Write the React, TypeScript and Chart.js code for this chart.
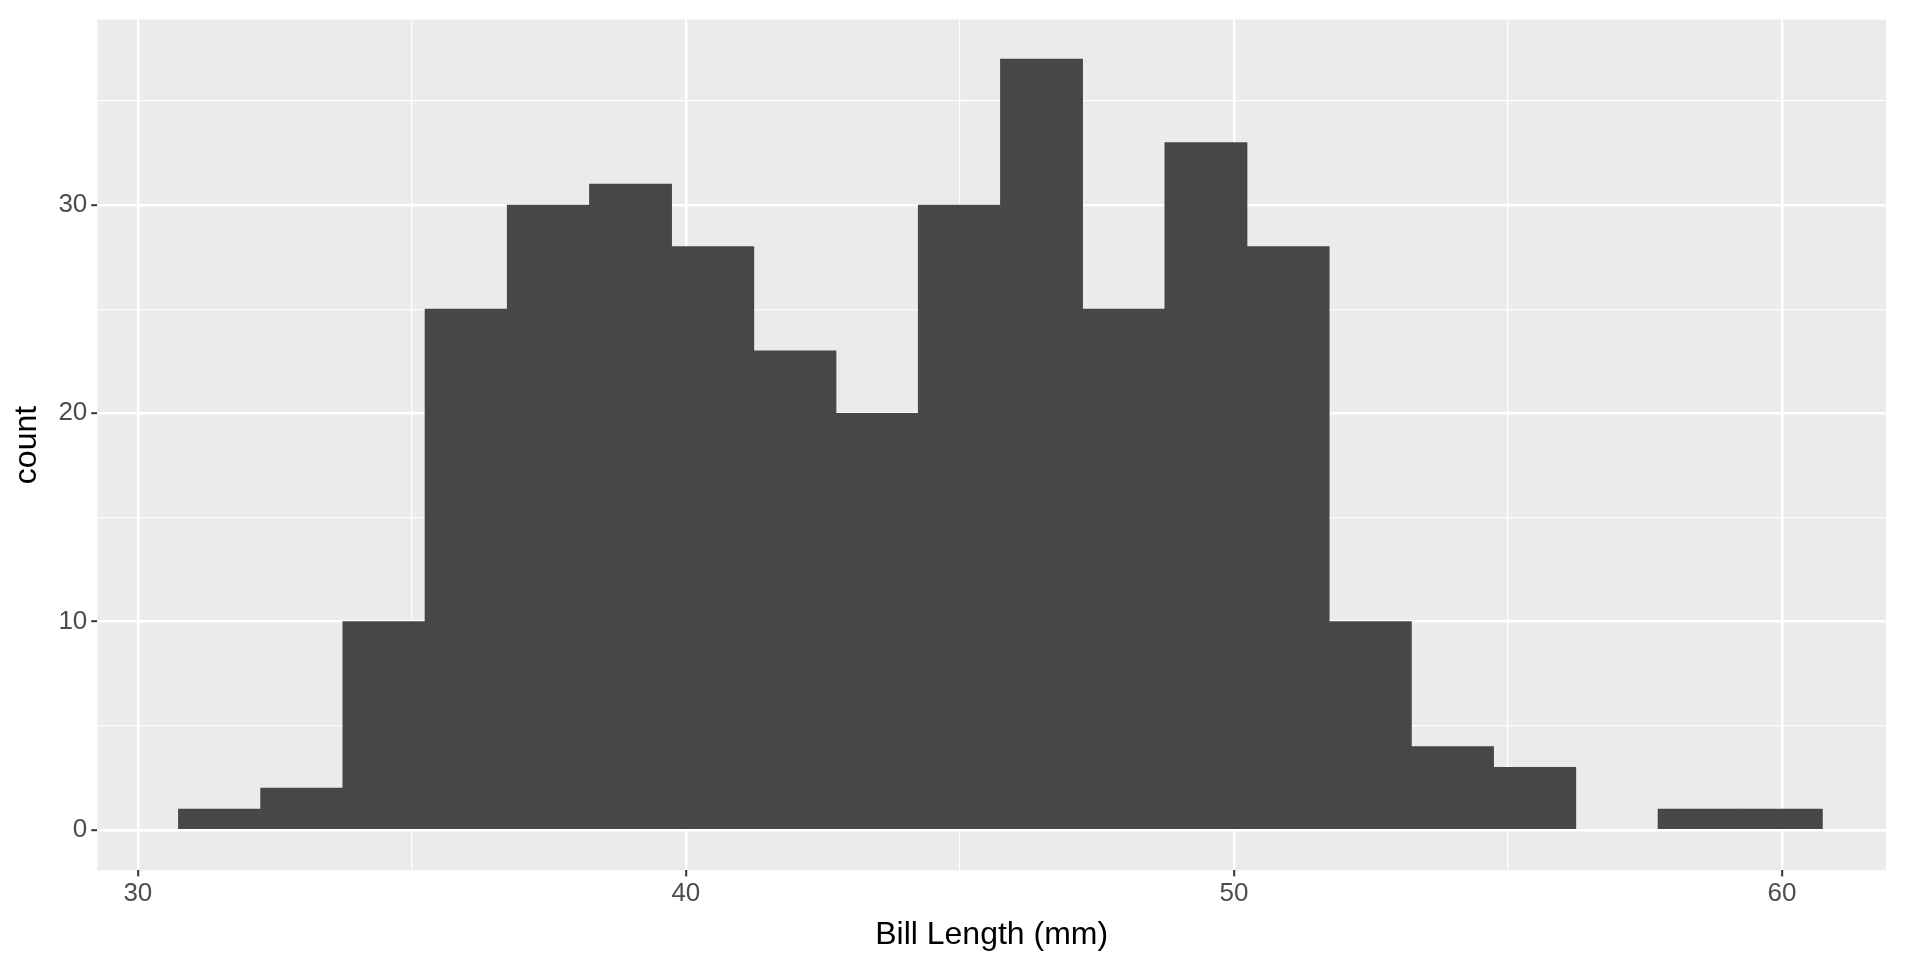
import React, { useEffect, useRef } from "react";
import { Chart, registerables } from "chart.js";
Chart.register(...registerables);

const binCenters = [31.49,32.99,34.49,35.99,37.49,38.99,40.49,41.99,43.49,44.99,46.49,47.99,49.49,50.99,52.49,53.99,55.49,56.99,58.49,59.99];
const counts = [1,2,10,25,30,31,28,23,20,30,37,25,33,28,10,4,3,0,1,1];
const xTicks = [30,35,40,45,50,55,60];
const yTicks = [0,5,10,15,20,25,30,35];

const bg = {
  id: "bg",
  beforeDraw(c: any) {
    const { ctx, chartArea: a } = c;
    ctx.save();
    ctx.fillStyle = "#EBEBEB";
    ctx.fillRect(a.left, a.top, a.right - a.left, a.bottom - a.top);
    ctx.restore();
  },
};

export default function App() {
  const ref = useRef<HTMLCanvasElement>(null);
  useEffect(() => {
    document.body.style.margin = "0";
    const major = (v: number) => v % 10 === 0;
    const grid = {
      color: "#FFFFFF",
      offset: false,
      lineWidth: (c: any) => (c.tick && major(c.tick.value) ? 2.4 : 1.2),
      tickColor: (c: any) => (c.tick && major(c.tick.value) ? "#333333" : "rgba(0,0,0,0)"),
      tickLength: 6,
      tickWidth: 2,
    };
    const font = { family: "'Liberation Sans', Arial, sans-serif", size: 26 };
    const chart = new Chart(ref.current!, {
      type: "bar",
      data: {
        datasets: [{
          data: binCenters.map((x, i) => ({ x, y: counts[i] })),
          backgroundColor: (c: any) => (c.raw && c.raw.y === 0 ? "rgba(0,0,0,0)" : "#474747"),
          barPercentage: 1,
          categoryPercentage: 1,
          borderWidth: 0,
        }],
      },
      plugins: [bg],
      options: {
        animation: false,
        responsive: false,
        layout: { padding: { top: 15, right: 34, bottom: 6, left: 8 } },
        plugins: { legend: { display: false }, tooltip: { enabled: false } },
        scales: {
          x: {
            type: "linear", min: 29.26, max: 61.9, offset: false,
            afterBuildTicks: (s: any) => { s.ticks = xTicks.map((v) => ({ value: v })); },
            ticks: { autoSkip: false, maxRotation: 0, color: "#4D4D4D", font, padding: 2, callback: (v: any) => (major(v) ? String(v) : "") },
            grid, border: { display: false },
            title: { display: true, text: "Bill Length (mm)", color: "#000", font: { ...font, size: 32 }, padding: { top: 4, bottom: 0 } },
          },
          y: {
            min: -1.95, max: 38.9,
            afterBuildTicks: (s: any) => { s.ticks = yTicks.map((v) => ({ value: v })); },
            ticks: { autoSkip: false, color: "#4D4D4D", font, padding: 4, callback: (v: any) => (major(v) ? String(v) : "") },
            grid, border: { display: false },
            title: { display: true, text: "count", color: "#000", font: { ...font, size: 32 }, padding: { top: 0, bottom: 8 } },
          },
        },
      },
    });
    return () => chart.destroy();
  }, []);
  return <canvas ref={ref} width={1920} height={960} style={{ display: "block" }} />;
}
